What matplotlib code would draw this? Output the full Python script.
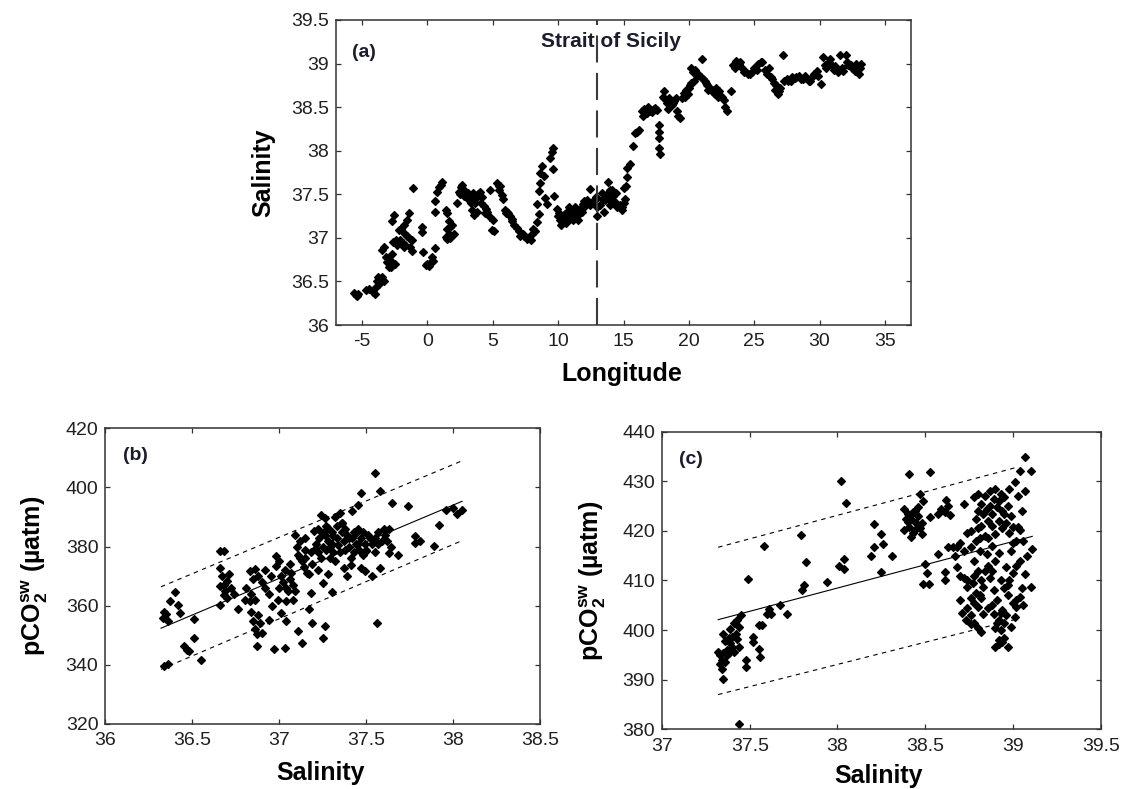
import matplotlib
matplotlib.use("Agg")
import matplotlib.pyplot as plt
from matplotlib.ticker import FuncFormatter, FixedLocator

plt.rcParams['font.family'] = ['Liberation Sans', 'DejaVu Sans']
plt.rcParams['mathtext.fontset'] = 'custom'
plt.rcParams['mathtext.default'] = 'regular'

# ---------------- Panel (a): salinity along the transect ----------------
lon_a = [-5.6, -5.5, -5.4, -5.3, -4.7, -4.5, -4.2, -4.0, -3.95, -3.9, -3.8, -3.7, -3.6, -3.5,
         -3.45, -3.3, -3.2, -3.1, -2.95, -2.9, -2.8, -2.7, -2.55, -2.7, -2.6, -2.4, -2.3, -2.2,
         -2.1, -2.0, -1.9, -1.8, -1.8, -1.7, -1.6, -1.55, -1.4, -1.4, -1.3, -1.2, -1.15, -1.1,
         -0.45, -0.4, -0.35, -0.15, 0.0, 0.1, 0.23, 0.36, 0.45, 0.6,
         0.6, 0.6, 0.74, 0.9, 1.0, 1.1, 1.38, 1.5, 1.63, 1.76, 1.38, 1.5, 1.63, 2.0, 1.9,
         2.26, 2.4, 2.55, 2.64, 2.77, 2.9, 3.0, 3.15, 3.3, 3.4, 3.53, 3.3, 3.5, 3.7, 3.9, 4.04,
         4.17, 4.3, 4.45, 4.55, 4.8, 4.93, 4.8, 5.08, 5.0, 5.3, 5.45, 5.56, 5.7, 5.8, 5.95, 6.1,
         6.2, 6.35, 6.45, 6.6, 6.83, 7.0, 7.2, 7.4, 7.6, 7.8, 7.97, 8.1,
         8.25, 8.38, 8.5, 8.38, 8.5, 8.63, 8.58, 8.76, 8.9, 9.0, 9.14, 9.4, 9.5, 9.64, 9.6, 9.7,
         9.9, 10.0, 10.15, 10.3, 10.5, 10.65, 10.8, 10.9, 11.05, 11.2, 11.4, 11.55, 11.7, 11.9,
         12.05, 12.2, 12.4, 12.6, 12.8, 13.0, 13.0, 12.3,
         13.34, 13.6, 13.85, 14.1, 13.98, 14.35, 14.6, 14.86, 15.1, 15.06, 15.25, 15.5, 15.75,
         15.9, 16.0, 16.2, 16.4, 16.6, 16.8, 17.0, 17.2, 17.4, 17.6, 17.7, 17.7, 17.75, 17.75,
         17.8, 18.1, 18.1, 18.3, 18.5, 18.7, 18.9, 19.1, 19.2, 19.3, 19.5, 19.7, 19.9, 20.0,
         20.2, 20.4, 20.3, 20.5, 20.7, 21.0, 20.9, 21.2, 21.4, 21.6, 21.8, 22.0, 22.2, 22.5,
         22.7, 22.8, 22.9, 23.2, 23.4, 23.6, 23.8, 24.0, 24.2, 24.5, 24.8, 25.0, 25.3, 25.5,
         25.8, 26.0, 26.3, 26.5, 26.6, 26.8, 27.0, 27.2, 27.3, 27.6, 27.9, 28.1, 28.4, 28.7,
         29.0, 29.3, 29.6, 29.9, 30.1, 30.3, 30.5, 30.7, 30.9, 31.1, 31.4, 31.6, 31.7, 32.0,
         32.2, 32.5, 32.8, 33.0, 33.2,
         10.1, 10.4, 10.7, 11.0, 11.3, 11.6, 11.8, 12.0, 12.4, 12.7, 12.9, 10.2, 10.6, 11.1, 11.5,
         13.2, 13.4, 13.5, 13.7, 13.9, 14.0, 14.2, 14.4, 14.5, 14.7, 14.9, 15.0, 15.2, 15.3,
         16.5, 16.9, 17.3, 18.0, 18.4, 18.8, 19.0, 19.6, 19.8, 20.1, 20.6, 20.2,
         21.1, 21.3, 21.5, 21.9, 22.3, 22.1,
         23.5, 23.9, 24.3, 24.7, 25.2, 25.6, 26.1, 26.4, 26.7, 26.9,
         27.5, 27.8, 28.2, 28.6, 28.9, 29.2, 29.5, 29.8, 30.4, 30.8, 31.2, 31.8, 32.1, 32.4, 32.7, 32.9, 33.1,
         -3.3, -2.5, -2.2, -1.7, 1.5, 1.7, 2.5, 2.8, 3.1, 3.6, 3.8, 4.1, 4.4, 5.5, 6.0, 6.5, 7.1, 7.3, 7.7, 7.9]
sal_a = [36.37, 36.34, 36.33, 36.36, 36.40, 36.41, 36.38, 36.36, 36.44, 36.50, 36.55, 36.47, 36.53, 36.55,
         36.86, 36.90, 36.78, 36.72, 36.67, 36.75, 36.66, 36.82, 37.26, 37.19, 36.95, 36.98, 36.92, 37.09,
         36.97, 37.10, 36.94, 37.15, 36.90, 37.05, 37.02, 37.20, 37.28, 37.0, 36.90, 36.85, 36.98, 37.57,
         37.13, 37.07, 36.84, 36.69, 36.70, 36.68, 36.71, 36.78, 36.74, 36.88,
         37.30, 37.42, 37.53, 37.58, 37.61, 37.64, 37.32, 37.28, 37.19, 37.13, 37.01, 36.99, 37.05, 37.05, 37.15,
         37.40, 37.53, 37.58, 37.61, 37.55, 37.50, 37.47, 37.44, 37.40, 37.32, 37.26, 37.48, 37.52, 37.46, 37.50, 37.53,
         37.47, 37.36, 37.33, 37.30, 37.24, 37.09, 37.55, 37.08, 37.20, 37.63, 37.60, 37.59, 37.49, 37.45, 37.32, 37.30,
         37.28, 37.25, 37.19, 37.15, 37.11, 37.08, 37.05, 37.02, 36.99, 37.0, 37.05, 37.10,
         37.08, 37.18, 37.27, 37.39, 37.54, 37.63, 37.75, 37.83, 37.71, 37.46, 37.39, 37.92, 37.98, 38.03, 37.79, 37.48,
         37.33, 37.25, 37.20, 37.18, 37.27, 37.22, 37.35, 37.22, 37.30, 37.29, 37.24, 37.31, 37.33, 37.39,
         37.36, 37.43, 37.56, 37.41, 37.44, 37.25, 37.35, 37.40,
         37.51, 37.43, 37.64, 37.55, 37.38, 37.41, 37.36, 37.32, 37.45, 37.57, 37.80, 37.85, 38.05,
         38.20, 38.22, 38.24, 38.45, 38.48, 38.43, 38.46, 38.44, 38.49, 38.47, 38.30, 38.22, 38.15, 38.03,
         37.96, 38.68, 38.60, 38.55, 38.60, 38.52, 38.57, 38.45, 38.40, 38.38, 38.60, 38.62, 38.65, 38.72,
         38.78, 38.80, 38.90, 38.93, 38.88, 39.05, 38.85, 38.80, 38.75, 38.72, 38.70, 38.65, 38.62, 38.62,
         38.58, 38.50, 38.46, 38.68, 38.98, 39.03, 39.00, 38.96, 38.90, 38.88, 38.90, 38.95, 39.00, 39.02,
         38.93, 38.88, 38.85, 38.78, 38.70, 38.65, 38.72, 39.10, 38.80, 38.80, 38.85, 38.84, 38.86, 38.82,
         38.84, 38.80, 38.88, 38.86, 38.76, 39.08, 38.95, 39.02, 38.98, 38.93, 38.90, 39.10, 38.95, 39.10,
         38.98, 38.95, 39.00, 38.88, 39.00,
         37.28, 37.22, 37.30, 37.25, 37.35, 37.27, 37.30, 37.42, 37.38, 37.40, 37.47, 37.15, 37.17, 37.20, 37.20,
         37.38, 37.45, 37.30, 37.50, 37.45, 37.55, 37.48, 37.52, 37.35, 37.38, 37.35, 37.40, 37.60, 37.70,
         38.40, 38.50, 38.48, 38.62, 38.48, 38.55, 38.60, 38.66, 38.70, 38.75, 38.86, 38.95,
         38.82, 38.78, 38.70, 38.66, 38.68, 38.72,
         38.95, 39.02, 38.92, 38.88, 38.93, 39.02, 38.95, 38.82, 38.75, 38.68,
         38.82, 38.80, 38.85, 38.82, 38.86, 38.80, 38.86, 38.92, 38.98, 39.05, 38.97, 38.92, 39.02, 38.98, 38.92, 38.96, 38.95,
         36.50, 36.70, 36.95, 36.92, 37.10, 37.00, 37.50, 37.48, 37.52, 37.40, 37.30, 37.40, 37.28, 37.55, 37.28, 37.22, 37.02, 37.05, 37.00, 36.98]
strait_lon = 13.0

# ---------------- Panel (b): pCO2 vs salinity, western basin ----------------
sal_b = [36.33, 36.35, 36.36, 36.34, 36.37, 36.40, 36.42, 36.43, 36.45, 36.47, 36.48, 36.51, 36.51, 36.55, 36.34, 36.36,
         36.66, 36.68, 36.66, 36.67, 36.68, 36.69, 36.70, 36.71, 36.72, 36.66, 36.68, 36.70, 36.66, 36.76, 36.81,
         36.83, 36.85, 36.86, 36.88, 36.90, 36.92, 36.94, 36.84, 36.86, 36.83, 36.84, 36.85, 36.86, 36.87, 36.87, 36.90, 36.94, 36.88, 36.89,
         36.97, 36.98, 36.98, 37.00, 37.01, 37.02, 37.03, 37.04, 37.05, 37.06, 37.07, 37.08, 37.09, 37.01, 37.03, 37.04, 37.04, 36.99,
         37.09, 37.10, 37.11, 37.12, 37.13, 37.14, 37.15, 37.16, 37.17, 37.13, 37.11, 37.17, 37.18, 37.19,
         37.20, 37.21, 37.22, 37.23, 37.24, 37.25, 37.26, 37.27, 37.28, 37.29, 37.30, 37.31, 37.32, 37.24, 37.26, 37.28, 37.25, 37.25, 37.26, 37.28, 37.30, 37.22,
         37.35, 37.36, 37.37, 37.38, 37.39, 37.40, 37.41, 37.42, 37.43, 37.44, 37.45, 37.46, 37.47, 37.48, 37.49, 37.37, 37.39, 37.41, 37.42, 37.45, 37.47, 37.47, 37.49, 37.53, 37.55, 37.56, 37.58, 37.58,
         37.51, 37.53, 37.55, 37.57, 37.59, 37.61, 37.63, 37.64, 37.63, 37.65, 37.68, 37.74, 37.78, 37.78, 37.81, 37.89, 37.92, 37.96, 38.00, 38.02, 38.05,
         37.21, 37.33, 37.34, 37.19, 37.27, 37.36, 37.44, 37.50, 37.31, 37.15,
         37.15, 37.18, 37.22, 37.25, 37.27, 37.30, 37.33, 37.35, 37.38, 37.40, 37.43, 37.45, 37.48, 37.50, 37.52, 37.55,
         37.57, 37.60, 37.62, 37.29, 37.32, 37.36, 37.12, 37.06, 36.95, 36.92, 36.80, 36.74, 36.96, 37.00, 37.08]
pco2_b = [356.0, 357.3, 355.0, 358.0, 361.6, 364.7, 360.4, 357.6, 346.4, 345.0, 344.7, 349.2, 355.4, 341.6, 339.7, 340.2,
          378.4, 378.4, 372.8, 370.0, 367.0, 365.0, 368.5, 370.6, 366.0, 366.5, 363.5, 362.7, 360.4, 358.8, 366.0,
          371.7, 369.0, 372.5, 370.0, 368.0, 366.0, 363.8, 364.0, 362.0, 361.6, 358.0, 355.0, 352.0, 350.3, 346.4, 350.9, 355.2, 357.0, 354.0,
          345.3, 376.7, 373.4, 375.0, 370.0, 368.0, 372.0, 366.0, 365.0, 369.0, 371.0, 367.0, 365.0, 357.6, 345.8, 361.6, 354.8, 362.0,
          384.0, 380.0, 377.0, 382.0, 375.0, 373.0, 379.0, 371.0, 370.6, 347.5, 351.5, 358.8, 364.4, 354.3,
          385.2, 381.0, 378.0, 383.0, 376.0, 380.0, 384.0, 379.0, 382.0, 376.0, 381.0, 378.0, 375.1, 390.8, 389.7, 386.3, 367.8, 349.2, 353.2, 370.6, 364.6, 372.0,
          391.3, 385.0, 382.0, 379.0, 384.0, 380.0, 376.0, 383.0, 378.0, 381.0, 386.0, 379.0, 383.0, 377.0, 381.0, 372.8, 370.0, 373.9, 391.9, 394.2, 398.0, 372.8, 371.7, 370.0, 404.8, 354.3, 398.7, 372.8,
          384.0, 381.0, 383.0, 385.0, 382.0, 384.0, 386.0, 380.0, 377.9, 394.7, 377.3, 393.6, 383.5, 381.2, 381.8, 380.1, 387.2, 392.5, 393.0, 391.0, 392.5,
          379.5, 387.0, 380.5, 374.0, 385.5, 388.0, 384.5, 378.5, 383.5, 376.0,
          383.0, 378.0, 386.0, 384.5, 387.0, 385.0, 383.0, 378.0, 386.0, 383.0, 385.0, 381.0, 385.0, 379.0, 383.0, 378.0,
          381.0, 386.0, 382.0, 380.0, 390.0, 388.0, 376.0, 374.0, 370.0, 372.0, 362.0, 364.0, 360.0, 366.0, 362.0]
fit_b_sal = [36.32, 38.05]
fit_b_mid = [352.4, 395.3]
fit_b_up = [366.4, 409.0]
fit_b_lo = [338.5, 382.0]

# ---------------- Panel (c): pCO2 vs salinity, eastern basin ----------------
sal_c = [37.32, 37.35, 37.37, 37.39, 37.40, 37.42, 37.44, 37.35, 37.34, 37.33, 37.35, 37.37, 37.43, 37.45, 37.38, 37.40, 37.44, 37.36, 37.41, 37.33,
         37.44, 37.48, 37.48, 37.49, 37.52, 37.52, 37.55, 37.55, 37.56, 37.57, 37.58, 37.60, 37.61, 37.62, 37.67, 37.71,
         37.79, 37.80, 37.81, 37.82, 37.94, 38.01, 38.02, 38.04, 38.04, 38.05, 38.19, 38.21, 38.21, 38.25, 38.25, 38.26, 38.31,
         38.38, 38.40, 38.42, 38.44, 38.46, 38.41, 38.43, 38.45, 38.39, 38.48, 38.47, 38.42, 38.41, 38.47, 38.53, 38.49, 38.53,
         38.57, 38.59, 38.61, 38.63, 38.64, 38.62, 38.57, 38.50, 38.51, 38.52, 38.49, 38.61, 38.61, 38.63, 38.66, 38.68, 38.72,
         38.68, 38.70, 38.72, 38.74, 38.70, 38.71, 38.73, 38.76, 38.74,
         38.78, 38.80, 38.82, 38.84, 38.86, 38.87, 38.79, 38.81, 38.83, 38.85, 38.80, 38.84, 38.86,
         38.76, 38.78, 38.80, 38.82, 38.83, 38.77, 38.79,
         38.74, 38.76, 38.78, 38.80, 38.82, 38.82, 38.83,
         38.87, 38.89, 38.91, 38.93, 38.95, 38.88, 38.90, 38.92, 38.94,
         38.89, 38.91, 38.93, 38.95, 38.97, 38.90, 38.92, 38.92, 38.88, 38.94,
         38.93, 38.95, 38.97, 39.00, 39.02, 38.88, 38.90, 38.92, 38.86,
         38.95, 38.97, 38.99, 39.00, 38.98, 39.01, 39.04, 39.07, 39.10, 39.07, 39.04, 39.11, 39.04, 39.07, 39.10, 39.04, 39.06,
         38.99, 38.96, 38.99, 39.01, 39.02, 38.98, 39.02, 39.05, 39.03,
         38.80, 38.82, 38.85, 38.88, 38.90, 38.92, 38.94, 38.96, 38.98, 39.00, 38.84, 38.87, 38.89, 38.91, 38.93, 38.95,
         38.96, 38.94, 38.92, 38.97, 39.00, 39.02, 38.88, 38.81, 38.79, 38.76, 38.74, 38.72, 38.70, 38.67, 38.78, 38.81,
         38.76, 38.78, 38.80, 38.86, 38.90, 39.05, 39.08, 39.03, 39.06,
         37.34, 37.36, 37.38, 37.41, 37.43, 37.39,
         38.40, 38.44, 38.46, 38.43, 38.38, 38.48]
pco2_c = [395.6, 395.3, 396.0, 397.3, 398.6, 399.3, 400.6, 399.3, 392.2, 393.2, 390.2, 394.9, 402.0, 403.0, 395.3, 396.6, 396.6, 397.8, 401.4, 395.0,
          381.0, 393.9, 392.5, 410.3, 398.6, 397.6, 401.0, 396.2, 394.6, 401.0, 417.0, 403.3, 404.3, 403.3, 405.0, 403.3,
          419.1, 408.0, 409.0, 413.7, 409.7, 413.0, 430.1, 414.4, 412.3, 425.6, 415.0, 421.4, 416.7, 419.4, 411.7, 417.4, 415.0,
          424.4, 423.4, 422.5, 424.1, 423.0, 420.8, 419.5, 421.5, 422.5, 421.5, 420.5, 418.7, 431.5, 427.4, 431.8, 426.1, 422.8,
          423.5, 424.5, 423.8, 425.0, 423.2, 426.2, 415.4, 413.4, 411.5, 409.3, 409.3, 411.7, 410.0, 416.7, 416.7, 416.7, 425.4,
          412.7, 411.0, 410.5, 410.0, 406.0, 403.5, 402.0, 401.3, 404.5,
          426.8, 424.0, 421.0, 419.0, 422.0, 425.0, 418.0, 416.0, 423.5, 415.4, 420.5, 427.0, 418.5,
          416.7, 414.0, 412.0, 410.0, 408.7, 409.5, 407.5,
          408.7, 406.5, 405.5, 404.6, 406.5, 399.6, 403.3,
          428.1, 426.5, 424.8, 427.5, 423.5, 421.0, 419.4, 422.0, 420.5,
          403.3, 401.5, 400.0, 398.5, 396.6, 396.6, 402.0, 398.0, 405.0, 404.0,
          410.0, 408.5, 407.0, 405.5, 404.6, 412.0, 414.0, 415.5, 413.0,
          426.8, 425.0, 423.0, 420.7, 428.5, 429.8, 432.1, 434.8, 432.1, 428.1, 420.1, 416.4, 414.0, 411.3, 408.7, 406.6, 405.0,
          416.0, 412.7, 400.6, 402.6, 406.0, 410.0, 418.0, 424.0, 427.0,
          427.5, 425.5, 424.5, 423.5, 428.5, 426.0, 424.0, 421.5, 419.5, 417.5, 412.0, 410.5, 408.0, 406.0, 403.5, 401.5,
          403.0, 397.5, 397.2, 409.0, 411.5, 413.0, 417.0, 418.5, 422.5, 420.0, 419.5, 416.0, 417.5, 415.0, 411.0, 407.0,
          403.0, 401.5, 400.5, 404.5, 400.5, 408.5, 415.0, 420.7, 418.0,
          394.0, 393.5, 398.5, 395.6, 398.3, 400.3,
          421.8, 420.2, 424.8, 423.8, 420.2, 419.3]
fit_c_sal = [37.32, 39.11]
fit_c_mid = [402.1, 418.9]
fit_c_band_sal = [37.32, 39.02]
fit_c_up = [416.7, 432.8]
fit_c_lo = [387.0, 402.2]

# ---------------- Figure ----------------
W, H = 1121, 789
fig = plt.figure(figsize=(W / 100, H / 100), dpi=100)

def px_rect(l, t, r, b):
    return [l / W, 1 - b / H, (r - l) / W, (b - t) / H]

ax_a = fig.add_axes(px_rect(336, 20, 911, 325))
ax_b = fig.add_axes(px_rect(105.3, 428.3, 540.3, 724))
ax_c = fig.add_axes(px_rect(662, 431.7, 1100.7, 729.3))

TICK_COLOR = '#202020'
fmt = FuncFormatter(lambda v, p: ('%g' % v))

def style(ax, xlim, ylim, xt, yt):
    ax.set_xlim(*xlim)
    ax.set_ylim(*ylim)
    ax.xaxis.set_major_locator(FixedLocator(xt))
    ax.yaxis.set_major_locator(FixedLocator(yt))
    ax.xaxis.set_major_formatter(fmt)
    ax.yaxis.set_major_formatter(fmt)
    ax.tick_params(direction='in', top=True, right=True, length=3.6, width=0.9,
                   color='#333333', labelsize=14, labelcolor=TICK_COLOR)
    ax.tick_params(axis='y', pad=5)
    ax.tick_params(axis='x', pad=6)
    for s in ax.spines.values():
        s.set_linewidth(1.1)
        s.set_color('#333333')

mk = dict(linestyle='none', marker='D', ms=4.0, mfc='black', mec='black', mew=0.9)

# Panel a
ax_a.plot(lon_a, sal_a, **mk)
ax_a.axvline(strait_lon, color='#3a3a3a', lw=1.5, dashes=(13, 5))
style(ax_a, (-7, 37), (36, 39.5), [-5, 0, 5, 10, 15, 20, 25, 30, 35],
      [36, 36.5, 37, 37.5, 38, 38.5, 39, 39.5])
ax_a.text(0.028, 0.895, '(a)', transform=ax_a.transAxes, fontsize=14, fontweight='bold',
          color='#1c1c2c', va='center', ha='left')
ax_a.text(0.356, 0.931, 'Strait of Sicily', transform=ax_a.transAxes, fontsize=15,
          fontweight='bold', color='#1c1c2c', va='center', ha='left')
ax_a.set_xlabel('Longitude', fontsize=18, fontweight='bold', va='center')
ax_a.xaxis.set_label_coords(0.497, -0.161)
ax_a.set_ylabel('Salinity', fontsize=18, fontweight='bold', va='center')
ax_a.yaxis.set_label_coords(-0.127, 0.5)

ylab = 'pCO$_2^{sw}$ (µatm)'

# Panel b
ax_b.plot(sal_b, pco2_b, **mk)
ax_b.plot(fit_b_sal, fit_b_mid, color='black', lw=0.8)
ax_b.plot(fit_b_sal, fit_b_up, color='black', lw=0.8, dashes=(4, 4))
ax_b.plot(fit_b_sal, fit_b_lo, color='black', lw=0.8, dashes=(4, 4))
style(ax_b, (36, 38.5), (320, 420), [36, 36.5, 37, 37.5, 38, 38.5],
      [320, 340, 360, 380, 400, 420])
ax_b.text(0.041, 0.909, '(b)', transform=ax_b.transAxes, fontsize=14, fontweight='bold',
          color='#1c1c2c', va='center', ha='left')
ax_b.set_xlabel('Salinity', fontsize=18, fontweight='bold', va='center')
ax_b.xaxis.set_label_coords(0.494, -0.166)
ax_b.set_ylabel(ylab, fontsize=18, fontweight='bold', va='center')
ax_b.yaxis.set_label_coords(-0.162, 0.5)

# Panel c
ax_c.plot(sal_c, pco2_c, **mk)
ax_c.plot(fit_c_sal, fit_c_mid, color='black', lw=0.8)
ax_c.plot(fit_c_band_sal, fit_c_up, color='black', lw=0.8, dashes=(4, 4))
ax_c.plot(fit_c_band_sal, fit_c_lo, color='black', lw=0.8, dashes=(4, 4))
style(ax_c, (37, 39.5), (380, 440), [37, 37.5, 38, 38.5, 39, 39.5],
      [380, 390, 400, 410, 420, 430, 440])
ax_c.text(0.039, 0.905, '(c)', transform=ax_c.transAxes, fontsize=14, fontweight='bold',
          color='#1c1c2c', va='center', ha='left')
ax_c.set_xlabel('Salinity', fontsize=18, fontweight='bold', va='center')
ax_c.xaxis.set_label_coords(0.493, -0.157)
ax_c.set_ylabel(ylab, fontsize=18, fontweight='bold', va='center')
ax_c.yaxis.set_label_coords(-0.158, 0.5)

fig.savefig('out.png', dpi=100, facecolor='white')
